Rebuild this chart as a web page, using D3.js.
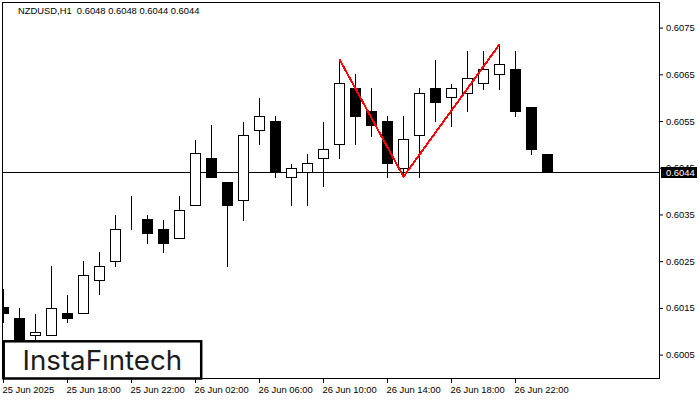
<!DOCTYPE html>
<html>
<head>
<meta charset="utf-8">
<style>
    html, body { margin: 0; padding: 0; background: #fff; }
    svg { display: block; }
    text { font-family: "Liberation Sans", sans-serif; font-size: 9.4px; fill: #000; }
    .domain { display: none; }
</style>
</head>
<body>
<div id="chart"></div>
<script src="https://d3js.org/d3.v7.min.js"></script>
<script>
    // one entry per hourly bar, first bar is 25 Jun 14:00
    var opens = [0.60151, 0.60129, 0.60091, 0.60091, 0.60140, 0.60140, 0.60210, 0.60251, 0.60330, 0.60341,
        0.60319, 0.60300, 0.60371, 0.60471, 0.60420, 0.60381, 0.60531, 0.60551, 0.60431, 0.60441,
        0.60471, 0.60501, 0.60621, 0.60572, 0.60551, 0.60450, 0.60520, 0.60621, 0.60602, 0.60610,
        0.60632, 0.60651, 0.60662, 0.60580, 0.6048];
    var highs = [0.60192, 0.60151, 0.60140, 0.60241, 0.60180, 0.60252, 0.60271, 0.60352, 0.60391, 0.60352,
        0.60341, 0.60391, 0.60512, 0.60543, 0.60420, 0.60551, 0.60602, 0.60562, 0.60461, 0.60482,
        0.60551, 0.60680, 0.60652, 0.60622, 0.60562, 0.60562, 0.60622, 0.60682, 0.60632, 0.60703,
        0.60703, 0.60714, 0.60703, 0.60580, 0.6048];
    var lows = [0.60120, 0.60072, 0.60083, 0.60091, 0.60120, 0.60140, 0.60180, 0.60239, 0.60319, 0.60289,
        0.60269, 0.60300, 0.60371, 0.60430, 0.60239, 0.60339, 0.60500, 0.60430, 0.60370, 0.60370,
        0.60411, 0.60470, 0.60500, 0.60519, 0.60430, 0.60432, 0.60430, 0.60550, 0.60540, 0.60571,
        0.60619, 0.60619, 0.60560, 0.60480, 0.6044];
    var closes = [0.60138, 0.60078, 0.60099, 0.60150, 0.60128, 0.60221, 0.60240, 0.60319, 0.60330, 0.60310,
        0.60289, 0.60359, 0.60482, 0.60430, 0.60370, 0.60520, 0.60561, 0.60441, 0.60450, 0.60461,
        0.60491, 0.60632, 0.60560, 0.60541, 0.60460, 0.60512, 0.60610, 0.60590, 0.60620, 0.60642,
        0.60662, 0.60672, 0.60571, 0.60491, 0.6044];

    var priceTicks = [0.6005, 0.6015, 0.6025, 0.6035, 0.6045, 0.6055, 0.6065, 0.6075];
    var timeTickBars = [0, 4, 8, 12, 16, 20, 24, 28, 32];
    var timeTickLabels = ["25 Jun 2025", "25 Jun 18:00", "25 Jun 22:00", "26 Jun 02:00", "26 Jun 06:00",
        "26 Jun 10:00", "26 Jun 14:00", "26 Jun 18:00", "26 Jun 22:00"];

    // double top: first peak, trough, second peak
    var patternBars = [21, 25, 31];
    var patternPrices = [0.60682, 0.60431, 0.60714];

    var lastPrice = 0.6044;
    var titleText = "NZDUSD,H1  0.6048 0.6048 0.6044 0.6044";
    var logoText = "InstaF\u0131ntech";

    var svg = d3.select("#chart").append("svg").attr("width", 700).attr("height", 400);

    var x = d3.scaleLinear().domain([0, 34]).range([3, 547]);
    var y = d3.scaleLinear().domain([0.6005, 0.6075]).range([354.6, 27.6]);
    var py = function (p) { return Math.round(y(p)) + 0.5; };

    svg.append("clipPath").attr("id", "plot").append("rect")
        .attr("x", 3).attr("y", 3).attr("width", 656).attr("height", 376);

    // last price line sits under the candles
    svg.append("line")
        .attr("x1", 3).attr("x2", 659)
        .attr("y1", py(lastPrice)).attr("y2", py(lastPrice))
        .attr("stroke", "#000").attr("shape-rendering", "crispEdges");

    var bars = svg.append("g").attr("clip-path", "url(#plot)")
        .attr("shape-rendering", "crispEdges")
        .selectAll("g").data(d3.range(opens.length)).enter().append("g")
        .attr("transform", function (i) { return "translate(" + (x(i) + 0.5) + ",0)"; });

    bars.append("line")
        .attr("y1", function (i) { return py(highs[i]); })
        .attr("y2", function (i) { return py(lows[i]) + 0.5; })
        .attr("stroke", "#000");

    bars.append("rect")
        .attr("x", -5).attr("width", 10)
        .attr("y", function (i) { return py(Math.max(opens[i], closes[i])); })
        .attr("height", function (i) { return py(Math.min(opens[i], closes[i])) - py(Math.max(opens[i], closes[i])); })
        .attr("fill", function (i) { return closes[i] < opens[i] ? "#000" : "#fff"; })
        .attr("stroke", "#000");

    svg.append("path")
        .datum(patternBars)
        .attr("d", d3.line()
            .x(function (b) { return x(b) + 0.5; })
            .y(function (b, k) { return y(patternPrices[k]); }))
        .attr("fill", "none").attr("stroke", "#f00").attr("stroke-width", 2)
        .attr("shape-rendering", "crispEdges");

    // frame
    svg.append("rect")
        .attr("x", 2.5).attr("y", 2.5).attr("width", 657).attr("height", 376)
        .attr("fill", "none").attr("stroke", "#000").attr("shape-rendering", "crispEdges");

    var yAxis = svg.append("g")
        .attr("transform", "translate(659,0)")
        .call(d3.axisRight(y).tickValues(priceTicks).tickSize(4).tickPadding(3).tickFormat(d3.format(".4f")));
    var xAxis = svg.append("g")
        .attr("transform", "translate(0,379)")
        .call(d3.axisBottom(x).tickValues(timeTickBars).tickSize(4).tickFormat(function (d, k) { return timeTickLabels[k]; }));
    xAxis.selectAll("text").attr("text-anchor", "start").attr("dx", "-1").attr("y", 7);
    svg.selectAll(".tick text").style("font-family", '"Liberation Sans", sans-serif').style("font-size", "9.4px");

    svg.append("rect")
        .attr("x", 661).attr("y", py(lastPrice) - 5.5).attr("width", 36).attr("height", 11)
        .attr("fill", "#000");
    svg.append("text")
        .attr("x", 666).attr("y", py(lastPrice) + 3.5)
        .style("fill", "#fff")
        .text(d3.format(".4f")(lastPrice));

    svg.append("text").attr("x", 18).attr("y", 14).attr("xml:space", "preserve").text(titleText);

    // logo box over the chart corner
    svg.append("rect")
        .attr("x", 3.7).attr("y", 341.3).attr("width", 197.5).attr("height", 37.2)
        .attr("fill", "#fff").attr("stroke", "#000").attr("stroke-width", 2.5);
    svg.append("text")
        .attr("x", 22.5).attr("y", 369.5)
        .style("font-family", "Inter, sans-serif").style("font-size", "27.7px").style("fill", "#1c1c1c")
        .text(logoText);
</script>
</body>
</html>
